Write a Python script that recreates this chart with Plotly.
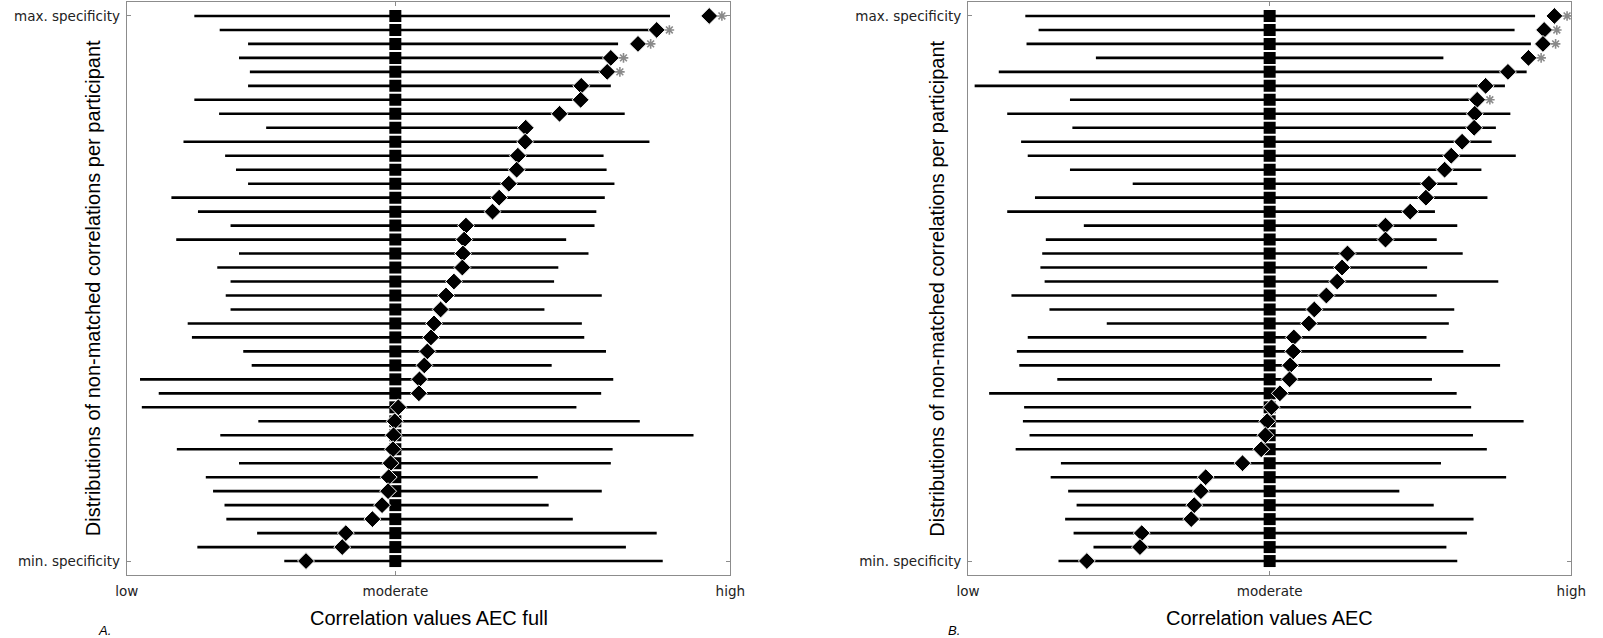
import plotly.graph_objects as go

# ---------------- data (rows listed from max. specificity (top) to min. specificity (bottom)) -------------
# x values on a normalised correlation scale: 0 = "low", 1 = "high"
A_low = [0.112, 0.154, 0.201, 0.186, 0.204, 0.201, 0.112, 0.153, 0.231, 0.094,
         0.163, 0.181, 0.201, 0.074, 0.118, 0.172, 0.082, 0.186, 0.150, 0.172,
         0.164, 0.172, 0.101, 0.108, 0.193, 0.207, 0.022, 0.053, 0.025, 0.218,
         0.155, 0.083, 0.186, 0.131, 0.143, 0.162, 0.165, 0.216, 0.117, 0.261]
A_high = [0.900, 0.871, 0.814, 0.800, 0.795, 0.802, 0.751, 0.825, 0.668, 0.866,
          0.790, 0.795, 0.808, 0.792, 0.778, 0.775, 0.728, 0.765, 0.715, 0.708,
          0.787, 0.692, 0.754, 0.758, 0.794, 0.704, 0.806, 0.786, 0.745, 0.850,
          0.939, 0.805, 0.802, 0.681, 0.787, 0.699, 0.739, 0.878, 0.827, 0.888]
A_matched = [0.965, 0.878, 0.847, 0.802, 0.796, 0.753, 0.752, 0.717, 0.661, 0.660,
             0.648, 0.646, 0.633, 0.617, 0.606, 0.562, 0.559, 0.557, 0.556, 0.542,
             0.529, 0.520, 0.509, 0.504, 0.498, 0.493, 0.485, 0.484, 0.450, 0.444,
             0.442, 0.441, 0.437, 0.434, 0.433, 0.423, 0.407, 0.363, 0.357, 0.297]
A_sig = [1, 1, 1, 1, 1] + [0] * 35
A_moderate = 0.445

B_low = [0.095, 0.117, 0.097, 0.212, 0.051, 0.011, 0.169, 0.065, 0.173, 0.088,
         0.099, 0.169, 0.273, 0.111, 0.065, 0.192, 0.129, 0.123, 0.120, 0.127,
         0.072, 0.135, 0.230, 0.099, 0.081, 0.085, 0.148, 0.035, 0.093, 0.091,
         0.102, 0.079, 0.154, 0.137, 0.166, 0.180, 0.161, 0.175, 0.208, 0.150]
B_high = [0.940, 0.906, 0.933, 0.788, 0.926, 0.890, 0.838, 0.899, 0.875, 0.868,
          0.908, 0.851, 0.811, 0.861, 0.774, 0.811, 0.777, 0.820, 0.761, 0.879,
          0.777, 0.806, 0.797, 0.760, 0.821, 0.882, 0.769, 0.810, 0.834, 0.921,
          0.837, 0.860, 0.784, 0.892, 0.715, 0.772, 0.838, 0.827, 0.793, 0.811]
B_matched = [0.972, 0.955, 0.953, 0.929, 0.895, 0.858, 0.844, 0.840, 0.839, 0.819,
             0.801, 0.790, 0.764, 0.759, 0.733, 0.692, 0.692, 0.629, 0.620, 0.612,
             0.594, 0.574, 0.565, 0.540, 0.539, 0.534, 0.533, 0.517, 0.503, 0.496,
             0.493, 0.486, 0.455, 0.394, 0.386, 0.375, 0.370, 0.288, 0.285, 0.197]
B_sig = [1, 1, 1, 1, 0, 0, 1] + [0] * 33
B_moderate = 0.500

x_ticktext = ["low", "moderate", "high"]
y_ticktext = ["min. specificity", "max. specificity"]
x_titles = ["Correlation values AEC full", "Correlation values AEC"]
y_title = "Distributions of non-matched correlations per participant"
panel_labels = ["A.", "B."]

n = len(A_low)
rows = [n - k for k in range(n)]  # top row = n (max), bottom row = 1 (min)

fig = go.Figure()
STAR_OFFSET = 0.021
STAR_GREY = "#8a8a8a"


def add_panel(low, high, matched, sig, moderate, xa, ya):
    lx, ly = [], []
    for lo, hi, y in zip(low, high, rows):
        lx += [lo, hi, None]
        ly += [y, y, None]
    fig.add_trace(go.Scatter(x=lx, y=ly, mode="lines", xaxis=xa, yaxis=ya,
                             line=dict(color="black", width=2.6),
                             hoverinfo="skip", showlegend=False))
    fig.add_trace(go.Scatter(x=[moderate] * n, y=rows, mode="markers", xaxis=xa, yaxis=ya,
                             marker=dict(symbol="square", size=12, color="black",
                                         line=dict(width=0)),
                             showlegend=False))
    fig.add_trace(go.Scatter(x=matched, y=rows, mode="markers", xaxis=xa, yaxis=ya,
                             marker=dict(symbol="diamond", size=13, color="black",
                                         line=dict(color="white", width=1)),
                             showlegend=False))
    sx = [m + STAR_OFFSET for m, s in zip(matched, sig) if s]
    sy = [y for y, s in zip(rows, sig) if s]
    fig.add_trace(go.Scatter(x=sx, y=sy, mode="markers", xaxis=xa, yaxis=ya,
                             marker=dict(symbol="asterisk-open", size=8, color=STAR_GREY,
                                         line=dict(color=STAR_GREY, width=1.6)),
                             showlegend=False))


add_panel(A_low, A_high, A_matched, A_sig, A_moderate, "x", "y")
add_panel(B_low, B_high, B_matched, B_sig, B_moderate, "x2", "y2")

tickfont = dict(family="DejaVu Sans", size=13.5, color="#222222")
common_x = dict(range=[0, 1], showgrid=False, zeroline=False, showline=True,
                linecolor="#8c8c8c", linewidth=1, mirror="allticks", ticks="inside",
                ticklen=4, tickcolor="#8c8c8c", tickfont=tickfont, ticktext=x_ticktext,
                ticklabelstandoff=4)
common_y = dict(range=[0, n + 1], showgrid=False, zeroline=False, showline=True,
                linecolor="#8c8c8c", linewidth=1, mirror="allticks", ticks="inside",
                ticklen=4, tickcolor="#8c8c8c", tickfont=tickfont,
                tickvals=[1, n], ticktext=y_ticktext, ticklabelstandoff=3)

ydom = [0.0987, 0.9969]
fig.update_layout(
    width=1603, height=638,
    margin=dict(l=0, r=0, t=0, b=0),
    paper_bgcolor="white", plot_bgcolor="white",
    xaxis=dict(common_x, domain=[0.0728, 0.4558], anchor="y", tickvals=[0, A_moderate, 1]),
    yaxis=dict(common_y, domain=ydom, anchor="x"),
    xaxis2=dict(common_x, domain=[0.6066, 0.9894], anchor="y2", tickvals=[0, B_moderate, 1]),
    yaxis2=dict(common_y, domain=ydom, anchor="x2"),
)

title_font = dict(family="Liberation Sans, Arial", size=20, color="black")
for i, (xc, yt_x, lab_x) in enumerate([(0.2643, 0.0512, 0.0590), (0.7980, 0.5864, 0.5975)]):
    fig.add_annotation(text=x_titles[i], x=xc, y=0.0313, xref="paper", yref="paper",
                       xanchor="center", yanchor="middle", showarrow=False, font=title_font)
    fig.add_annotation(text=y_title, x=yt_x, y=0.5478, xref="paper", yref="paper",
                       xanchor="center", yanchor="middle", textangle=-90,
                       showarrow=False, font=title_font)
    fig.add_annotation(text="<i>" + panel_labels[i] + "</i>", x=lab_x, y=0.011,
                       xref="paper", yref="paper", xanchor="center", yanchor="middle",
                       showarrow=False,
                       font=dict(family="Liberation Sans, Arial", size=13, color="black"))

fig.write_html("out.html",
               config={"displayModeBar": False},
               post_script="document.body.style.margin='0';document.body.style.overflow='hidden';")
